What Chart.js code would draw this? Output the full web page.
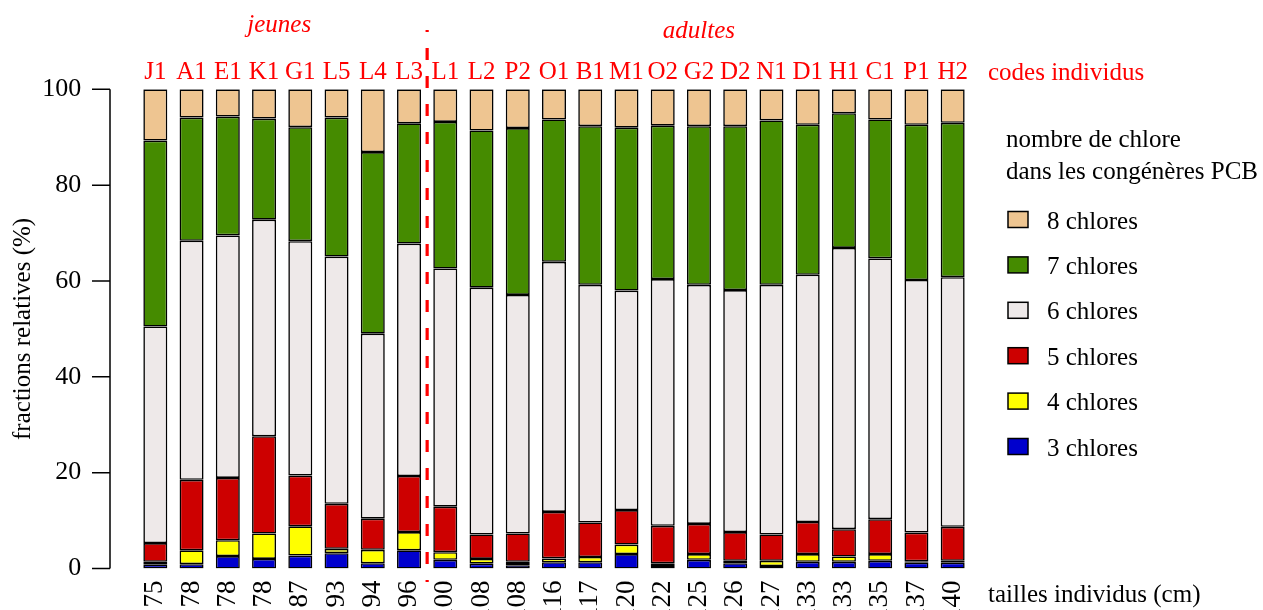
<!DOCTYPE html>
<html>
<head>
<meta charset="utf-8">
<script src="https://cdn.jsdelivr.net/npm/chart.js@4/dist/chart.umd.min.js"></script>
<style>
  html, body { margin: 0; padding: 0; background: #fff; }
  #wrap { width: 1263px; height: 610px; }
</style>
</head>
<body>
<div id="wrap"><canvas id="myChart" width="1263" height="610"></canvas></div>
<script>
// individus (codes) et tailles (cm)
const codes = ['J1', 'A1', 'E1', 'K1', 'G1', 'L5', 'L4', 'L3',
    'L1', 'L2', 'P2', 'O1', 'B1', 'M1', 'O2', 'G2', 'D2', 'N1', 'D1', 'H1', 'C1', 'P1', 'H2']
const sizes = ['75', '78', '78', '78', '87', '93', '94', '96',
    '100', '108', '108', '116', '117', '120', '122', '125', '126', '127', '133', '133', '135', '137', '140']
const nJeunes = 8

// fractions relatives (%) par nombre de chlores
const chlore3 = [0.8, 0.9, 2.6, 2.0, 2.7, 3.2, 1.1, 3.8,
    1.8, 1.0, 0.7, 1.3, 1.3, 3.0, 0.5, 1.8, 1.1, 0.5, 1.4, 1.4, 1.6, 1.2, 1.2]
const chlore4 = [0.6, 2.9, 3.3, 5.3, 6.1, 0.9, 2.8, 3.8,
    1.6, 1.0, 0.7, 0.8, 1.1, 2.0, 0.6, 1.2, 0.5, 1.1, 1.6, 1.1, 1.4, 0.3, 0.4]
const chlore5 = [3.9, 14.7, 13.0, 20.3, 10.6, 9.4, 6.5, 11.7,
    9.5, 5.1, 5.9, 9.7, 7.2, 7.2, 7.8, 6.3, 6.0, 5.5, 6.7, 5.7, 7.3, 6.0, 7.1]
const chlore6 = [45.2, 49.9, 50.6, 45.2, 48.9, 51.6, 38.6, 48.5,
    49.7, 51.5, 49.8, 52.2, 49.6, 45.8, 51.5, 49.9, 50.5, 52.1, 51.6, 58.7, 54.4, 52.7, 52.1]
const chlore7 = [38.8, 25.7, 24.8, 21.1, 23.8, 29.0, 37.9, 25.1,
    30.6, 32.8, 34.8, 29.7, 33.1, 34.0, 32.0, 33.1, 34.2, 34.3, 31.3, 28.1, 29.0, 32.4, 32.2]
const chlore8 = [10.7, 5.9, 5.7, 6.1, 7.9, 5.9, 13.1, 7.1,
    6.8, 8.6, 8.1, 6.3, 7.7, 8.0, 7.6, 7.7, 7.7, 6.5, 7.4, 5.0, 6.3, 7.4, 7.0]
const yTicks = [0, 20, 40, 60, 80, 100]

const serif = "'Liberation Serif', 'Times New Roman', serif"

function bar(label, values, color) {
    return {
        label: label,
        data: values,
        backgroundColor: color,
        borderColor: '#000',
        borderWidth: 1.6,
        borderSkipped: false,
        categoryPercentage: 1,
        barPercentage: 0.662,
    }
}

// axe y décalé, ligne pointillée, textes et légende
const decor = {
    id: 'decor',
    afterDraw(chart) {
        const ctx = chart.ctx
        const x = chart.scales.x
        const y = chart.scales.y
        ctx.save()

        ctx.strokeStyle = '#000'
        ctx.lineWidth = 1.5
        ctx.beginPath()
        ctx.moveTo(110, y.getPixelForValue(0))
        ctx.lineTo(110, y.getPixelForValue(100))
        yTicks.forEach(v => {
            const py = y.getPixelForValue(v)
            ctx.moveTo(92, py)
            ctx.lineTo(110, py)
        })
        ctx.stroke()

        // séparation jeunes / adultes
        const xs = x.getPixelForValue(nJeunes - 0.5)
        ctx.strokeStyle = '#ff0000'
        ctx.lineWidth = 3.2
        ctx.setLineDash([12, 16])
        ctx.lineDashOffset = 10
        ctx.beginPath()
        ctx.moveTo(xs, 30)
        ctx.lineTo(xs, 582)
        ctx.stroke()
        ctx.setLineDash([])

        ctx.fillStyle = '#ff0000'
        ctx.textBaseline = 'alphabetic'
        ctx.font = 'italic 25px ' + serif
        ctx.textAlign = 'center'
        const cj = (x.getPixelForValue(0) + x.getPixelForValue(nJeunes - 1)) / 2
        const ca = (x.getPixelForValue(nJeunes) + x.getPixelForValue(codes.length - 1)) / 2
        ctx.fillText('jeunes', cj - 3, 32)
        ctx.fillText('adultes', ca, 38)

        ctx.font = '25px ' + serif
        ctx.textAlign = 'left'
        ctx.fillText('codes individus', 988, 80)
        ctx.fillStyle = '#000'
        ctx.fillText('tailles individus (cm)', 988, 602)

        // légende
        ctx.fillText('nombre de chlore', 1006, 147)
        ctx.fillText('dans les congénères PCB', 1006, 179)
        const items = chart.data.datasets.slice().reverse()
        items.forEach((ds, i) => {
            const cy = 219.5 + i * 45.4
            ctx.fillStyle = ds.backgroundColor
            ctx.fillRect(1008, cy - 8, 20, 16)
            ctx.strokeStyle = '#000'
            ctx.lineWidth = 1.5
            ctx.strokeRect(1008, cy - 8, 20, 16)
            ctx.fillStyle = '#000'
            ctx.fillText(ds.label, 1047, cy + 9)
        })
        ctx.restore()
    },
}

function render_chart() {
    Chart.defaults.font.family = serif
    Chart.defaults.color = '#000'

    const data = {
        labels: sizes,
        datasets: [
            bar('3 chlores', chlore3, '#0000CD'),
            bar('4 chlores', chlore4, '#FFFF00'),
            bar('5 chlores', chlore5, '#CD0000'),
            bar('6 chlores', chlore6, '#EEE9E9'),
            bar('7 chlores', chlore7, '#458B00'),
            bar('8 chlores', chlore8, '#EEC591'),
        ],
    }

    const config = {
        type: 'bar',
        data: data,
        plugins: [decor],
        options: {
            responsive: false,
            animation: false,
            devicePixelRatio: 1,
            layout: { padding: { left: 0, right: 292.2, top: 0, bottom: 0 } },
            plugins: { legend: { display: false }, tooltip: { enabled: false } },
            scales: {
                x: {
                    stacked: true,
                    offset: true,
                    grid: { display: false, drawTicks: false },
                    border: { display: false },
                    ticks: {
                        autoSkip: false,
                        minRotation: 90,
                        maxRotation: 90,
                        padding: 12,
                        font: { size: 27 },
                    },
                    afterFit: s => { s.height = 41.5 },
                },
                xTop: {
                    type: 'category',
                    position: 'top',
                    labels: codes,
                    offset: true,
                    grid: { display: false, drawTicks: false },
                    border: { display: false },
                    ticks: { autoSkip: false, maxRotation: 0, padding: 2, color: '#ff0000', font: { size: 25 } },
                    afterFit: s => { s.height = 89.3 },
                },
                y: {
                    stacked: true,
                    min: 0,
                    max: 100,
                    grid: { display: false, drawTicks: false },
                    border: { display: false },
                    afterBuildTicks: s => { s.ticks = yTicks.map(v => ({ value: v })) },
                    ticks: { padding: 56, font: { size: 26 } },
                    title: {
                        display: true,
                        text: 'fractions relatives (%)',
                        font: { size: 25 },
                        padding: { top: 8, bottom: 0 },
                    },
                    afterFit: s => {
                        s.width = 137.2
                        s.paddingTop = 0
                        s.paddingBottom = 0
                    },
                },
            },
        },
    }

    const myChart = new Chart(document.getElementById('myChart'), config)
}

document.addEventListener('DOMContentLoaded', render_chart)
</script>
</body>
</html>
